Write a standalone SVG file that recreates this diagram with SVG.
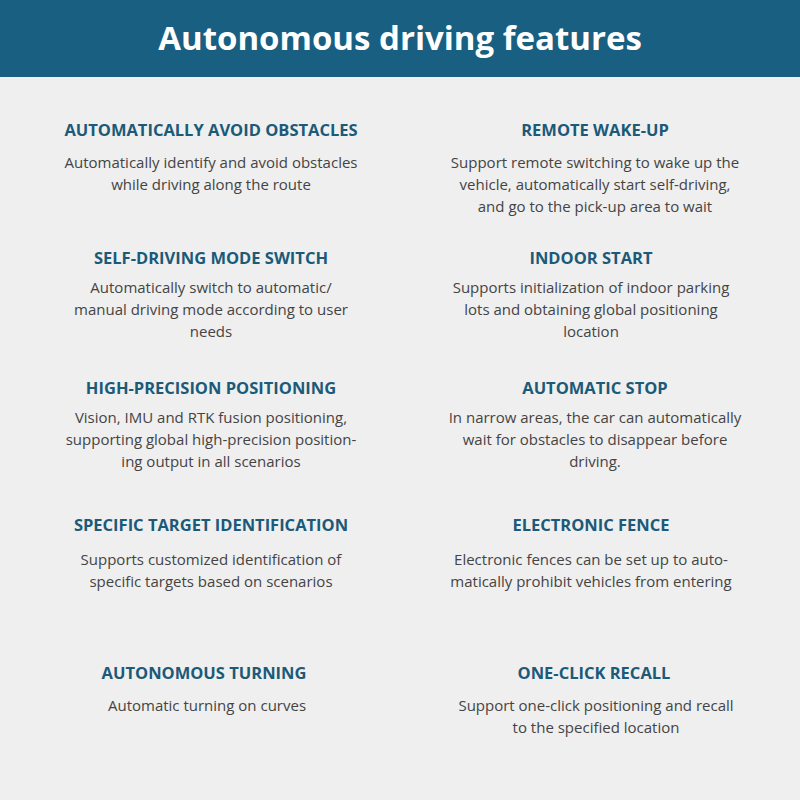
<svg xmlns="http://www.w3.org/2000/svg" width="800" height="800" viewBox="0 0 800 800">
<style>
.h{font-family:"Open Sans","Liberation Sans",sans-serif;font-weight:bold;font-size:16.5px;fill:#1b5a78;text-anchor:middle}
.b{font-family:"Open Sans","Liberation Sans",sans-serif;font-size:15px;fill:#444;text-anchor:middle}
</style>
<rect width="800" height="800" fill="#efefef"/>
<g id="header"><rect width="800" height="77" fill="#185f82"/>
<text x="400" y="50" text-anchor="middle" font-family="Open Sans,Liberation Sans,sans-serif" font-weight="bold" font-size="33" fill="#fff">Autonomous driving features</text></g>
<g id="f1"><text class="h" x="211" y="136">AUTOMATICALLY AVOID OBSTACLES</text><text class="b" x="211" y="168">Automatically identify and avoid obstacles</text><text class="b" x="211" y="190">while driving along the route</text></g>
<g id="f2"><text class="h" x="595" y="136">REMOTE WAKE-UP</text><text class="b" x="595" y="168">Support remote switching to wake up the</text><text class="b" x="595" y="190">vehicle, automatically start self-driving,</text><text class="b" x="595" y="212">and go to the pick-up area to wait</text></g>
<g id="f3"><text class="h" x="211" y="264">SELF-DRIVING MODE SWITCH</text><text class="b" x="211" y="293">Automatically switch to automatic/</text><text class="b" x="211" y="315">manual driving mode according to user</text><text class="b" x="211" y="337">needs</text></g>
<g id="f4"><text class="h" x="591" y="264">INDOOR START</text><text class="b" x="591" y="293">Supports initialization of indoor parking</text><text class="b" x="591" y="315">lots and obtaining global positioning</text><text class="b" x="591" y="337">location</text></g>
<g id="f5"><text class="h" x="211" y="394">HIGH-PRECISION POSITIONING</text><text class="b" x="211" y="423">Vision, IMU and RTK fusion positioning,</text><text class="b" x="211" y="445">supporting global high-precision position-</text><text class="b" x="211" y="467">ing output in all scenarios</text></g>
<g id="f6"><text class="h" x="595" y="394">AUTOMATIC STOP</text><text class="b" x="595" y="423">In narrow areas, the car can automatically</text><text class="b" x="595" y="445">wait for obstacles to disappear before</text><text class="b" x="595" y="467">driving.</text></g>
<g id="f7"><text class="h" x="211" y="531">SPECIFIC TARGET IDENTIFICATION</text><text class="b" x="211" y="565">Supports customized identification of</text><text class="b" x="211" y="587">specific targets based on scenarios</text></g>
<g id="f8"><text class="h" x="591" y="531">ELECTRONIC FENCE</text><text class="b" x="591" y="565">Electronic fences can be set up to auto-</text><text class="b" x="591" y="587">matically prohibit vehicles from entering</text></g>
<g id="f9"><text class="h" x="204" y="679">AUTONOMOUS TURNING</text><text class="b" x="207" y="711">Automatic turning on curves</text></g>
<g id="f10"><text class="h" x="594" y="679">ONE-CLICK RECALL</text><text class="b" x="596" y="711">Support one-click positioning and recall</text><text class="b" x="596" y="733">to the specified location</text></g>
<g id="connectors"/>
</svg>
